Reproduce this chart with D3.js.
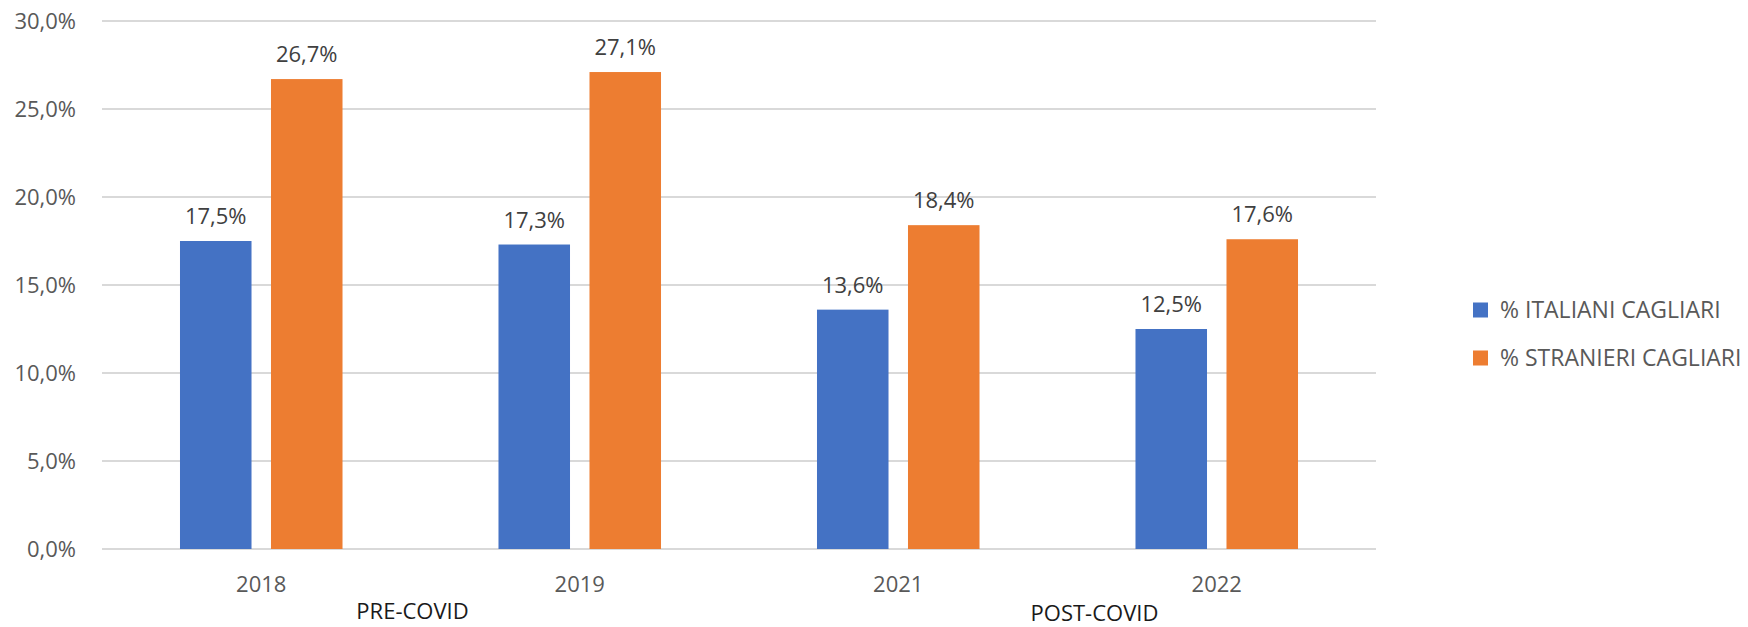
<!DOCTYPE html>
<html>
<head>
<meta charset="utf-8">
<script src="https://cdn.jsdelivr.net/npm/d3@7"></script>
<style>
  body { margin: 0; background: #fff; }
  text { font-family: "Open Sans", sans-serif; }
</style>
</head>
<body>
<svg></svg>
<script>
// data
var years = ["2018", "2019", "2021", "2022"];
var seriesNames = ["% ITALIANI CAGLIARI", "% STRANIERI CAGLIARI"];
var italiani = [17.5, 17.3, 13.6, 12.5];
var stranieri = [26.7, 27.1, 18.4, 17.6];
var yTicks = [0, 5, 10, 15, 20, 25, 30];
var periods = ["PRE-COVID", "POST-COVID"];
var periodYears = [["2018", "2019"], ["2021", "2022"]];

var colors = ["#4472C4", "#ED7D31"];
var width = 1748, height = 627;
var plotLeft = 102, plotRight = 1376, plotTop = 21, plotBottom = 549;

var svg = d3.select("svg")
  .attr("width", width)
  .attr("height", height);

var fmt = function(v) { return d3.format(".1f")(v).replace(".", ",") + "%"; };

var y = d3.scaleLinear().domain([0, 30]).range([plotBottom, plotTop]);

var x0 = d3.scaleBand().domain(years).range([plotLeft, plotRight]).padding(0);

var x1 = d3.scaleBand().domain(seriesNames)
  .range([0, x0.bandwidth()])
  .paddingInner(0.214)
  .paddingOuter(0.857);

// gridlines
svg.append("g").selectAll("line")
  .data(yTicks)
  .enter().append("line")
  .attr("x1", plotLeft).attr("x2", plotRight)
  .attr("y1", function(d) { return y(d); })
  .attr("y2", function(d) { return y(d); })
  .attr("stroke", "#d9d9d9")
  .attr("stroke-width", 2);

// y labels
svg.append("g").selectAll("text")
  .data(yTicks)
  .enter().append("text")
  .attr("x", 76)
  .attr("y", function(d) { return y(d); })
  .attr("dy", "0.36em")
  .attr("text-anchor", "end")
  .attr("font-size", 22)
  .attr("fill", "#595959")
  .text(function(d) { return fmt(d); });

// bars
var rows = years.map(function(yr, i) {
  return { year: yr, values: [italiani[i], stranieri[i]] };
});

var groups = svg.append("g").selectAll("g")
  .data(rows)
  .enter().append("g")
  .attr("transform", function(d) { return "translate(" + x0(d.year) + ",0)"; });

groups.selectAll("rect")
  .data(function(d) { return d.values.map(function(v, j) { return { name: seriesNames[j], value: v, idx: j }; }); })
  .enter().append("rect")
  .attr("x", function(d) { return x1(d.name); })
  .attr("y", function(d) { return y(d.value); })
  .attr("width", x1.bandwidth())
  .attr("height", function(d) { return y(0) - y(d.value); })
  .attr("fill", function(d) { return colors[d.idx]; });

groups.selectAll("text.val")
  .data(function(d) { return d.values.map(function(v, j) { return { name: seriesNames[j], value: v }; }); })
  .enter().append("text")
  .attr("class", "val")
  .attr("x", function(d) { return x1(d.name) + x1.bandwidth() / 2; })
  .attr("y", function(d) { return y(d.value) - 17; })
  .attr("text-anchor", "middle")
  .attr("font-size", 22)
  .attr("fill", "#404040")
  .text(function(d) { return fmt(d.value); });

// x labels
svg.append("g").selectAll("text")
  .data(years)
  .enter().append("text")
  .attr("x", function(d) { return x0(d) + x0.bandwidth() / 2; })
  .attr("y", 584)
  .attr("dy", "0.36em")
  .attr("text-anchor", "middle")
  .attr("font-size", 22)
  .attr("fill", "#595959")
  .text(function(d) { return d; });

// period labels (text boxes, nudged like the original)
var nudgeX = [-8, 37], labelY = [611, 613];
svg.append("g").selectAll("text")
  .data(periods)
  .enter().append("text")
  .attr("x", function(d, i) {
    var a = x0(periodYears[i][0]) + x0.bandwidth() / 2;
    var b = x0(periodYears[i][1]) + x0.bandwidth() / 2;
    return (a + b) / 2 + nudgeX[i];
  })
  .attr("y", function(d, i) { return labelY[i]; })
  .attr("dy", "0.36em")
  .attr("text-anchor", "middle")
  .attr("font-size", 22)
  .attr("fill", "#1a1a1a")
  .text(function(d) { return d; });

// legend
var legend = svg.append("g").selectAll("g")
  .data(seriesNames)
  .enter().append("g")
  .attr("transform", function(d, i) { return "translate(1473," + (310 + i * 48) + ")"; });

legend.append("rect")
  .attr("x", 0).attr("y", -7.5)
  .attr("width", 15).attr("height", 15)
  .attr("fill", function(d, i) { return colors[i]; });

legend.append("text")
  .attr("x", 27).attr("y", 0)
  .attr("dy", "0.36em")
  .attr("font-size", 23)
  .attr("fill", "#595959")
  .text(function(d) { return d; });
</script>
</body>
</html>
